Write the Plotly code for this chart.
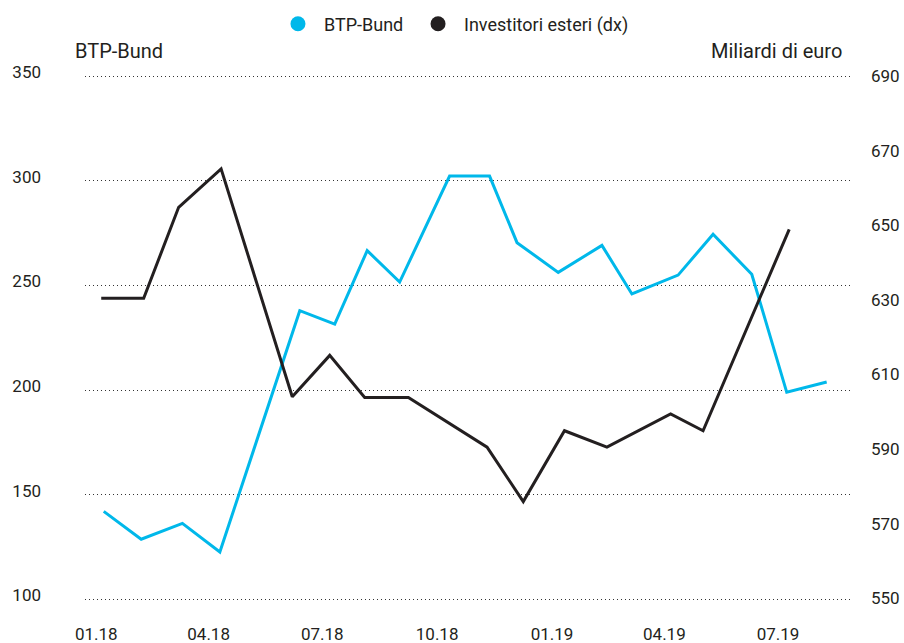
import plotly.graph_objects as go

# BTP-Bund spread (left axis) - dates
btp_dates = ["2018-01-07", "2018-02-06", "2018-03-11", "2018-04-10", "2018-06-13",
             "2018-07-11", "2018-08-06", "2018-09-01", "2018-10-11", "2018-11-12",
             "2018-12-04", "2019-01-06", "2019-02-10", "2019-03-06", "2019-04-12",
             "2019-05-10", "2019-06-10", "2019-07-08", "2019-08-09"]
btp_values = [142, 128.7, 136.3, 122.6, 237.9,
              231.5, 266.6, 251.6, 302.2, 302.2,
              270.4, 256.2, 269.1, 245.9, 254.9,
              274.4, 255.3, 198.9, 203.8]

# Foreign investors, billions of euro (right axis)
inv_dates = ["2018-01-05", "2018-02-08", "2018-03-08", "2018-04-11", "2018-06-07",
             "2018-07-07", "2018-08-04", "2018-09-08", "2018-11-10", "2018-12-09",
             "2019-01-11", "2019-02-14", "2019-04-06", "2019-05-02", "2019-07-10"]
inv_values = [630.4, 630.4, 654.8, 665.1, 604.0,
              615.1, 603.8, 603.8, 590.5, 575.9,
              594.9, 590.5, 599.4, 594.9, 648.9]

left_ticks = [100, 150, 200, 250, 300, 350]
right_ticks = [550, 570, 590, 610, 630, 650, 670, 690]

BLUE = "#00B8EA"
BLACK = "#231F20"
TXT = "#231F20"
FONT = "Roboto"

fig = go.Figure()

fig.add_trace(go.Scatter(x=inv_dates, y=inv_values, mode="lines", yaxis="y2",
                         line=dict(color=BLACK, width=3), showlegend=False,
                         hoverinfo="skip"))
fig.add_trace(go.Scatter(x=btp_dates, y=btp_values, mode="lines",
                         line=dict(color=BLUE, width=3), showlegend=False,
                         hoverinfo="skip"))

# legend-only entries (circle markers)
fig.add_trace(go.Scatter(x=[None], y=[None], mode="markers", name="BTP-Bund",
                         legend="legend",
                         marker=dict(color=BLUE, size=15, symbol="circle")))
fig.add_trace(go.Scatter(x=[None], y=[None], mode="markers", name="Investitori esteri (dx)",
                         legend="legend2",
                         marker=dict(color=BLACK, size=15, symbol="circle")))

leg_common = dict(orientation="h", yanchor="middle", y=1.086, xanchor="left",
                  font=dict(size=18, color=TXT), itemwidth=42,
                  bgcolor="rgba(0,0,0,0)")

fig.update_layout(
    width=904, height=643,
    margin=dict(l=85, r=54, t=70, b=38, autoexpand=False),
    paper_bgcolor="white", plot_bgcolor="white",
    font=dict(family=FONT, size=17, color=TXT),
    showlegend=True,
    legend=dict(x=0.2444, **leg_common),
    legend2=dict(x=0.4275, **leg_common),
    xaxis=dict(type="date", range=["2017-12-23", "2019-08-27T16:00"],
               tick0="2018-01-01", dtick="M3", tickformat="%m.%y",
               showgrid=False, zeroline=False, showline=False, ticks="",
               ticklabelstandoff=17, tickfont=dict(size=17, color=TXT)),
    yaxis=dict(range=[97.28, 352.9], tickvals=left_ticks, showgrid=True,
               gridcolor="#333333", gridwidth=1, griddash="1px,3px",
               zeroline=False, showline=False, ticks="",
               ticklabelstandoff=43, ticklabelshift=-4,
               tickfont=dict(size=17, color=TXT)),
    yaxis2=dict(range=[548.18, 691.61], tickvals=right_ticks, overlaying="y", side="right",
                showgrid=False, zeroline=False, showline=False, ticks="",
                ticklabelstandoff=20, tickfont=dict(size=17, color=TXT)),
    annotations=[
        dict(text="BTP-Bund", xref="paper", yref="paper", x=-0.0157, y=1.035,
             xanchor="left", yanchor="middle", showarrow=False,
             font=dict(size=20, color=TXT, family=FONT)),
        dict(text="Miliardi di euro", xref="paper", yref="paper", x=0.992, y=1.035,
             xanchor="right", yanchor="middle", showarrow=False,
             font=dict(size=20, color=TXT, family=FONT)),
    ],
)

fig.write_html("out.html", config={"displayModeBar": False},
               post_script="document.body.style.margin='0';document.body.style.padding='0';")
